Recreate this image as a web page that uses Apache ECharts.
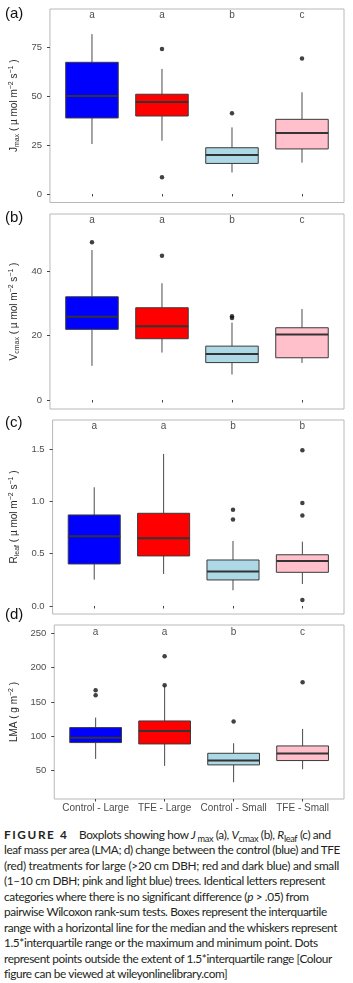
<!DOCTYPE html>
<html>
<head>
<meta charset="utf-8">
<script src="https://cdn.jsdelivr.net/npm/echarts@6/dist/echarts.min.js"></script>
<style>
  html, body { margin: 0; padding: 0; background: #fff; }
  body { width: 353px; height: 983px; position: relative; overflow: hidden; }
  #chart { position: absolute; left: 0; top: 0; width: 353px; height: 822px; }
  #cap { position: absolute; left: 4px; top: 827px; width: 349px; font-family: Lato, 'Open Sans', sans-serif;
         font-size: 11.8px; line-height: 15.45px; color: #231f20; }
  #cap .ln { white-space: nowrap; height: 15.45px; }
  #cap .ln span.inner { display: inline-block; white-space: nowrap; }
  #cap .fig { font-weight: bold; letter-spacing: 1.6px; }
  #cap sub { font-size: 0.78em; vertical-align: baseline; position: relative; top: 0.3em; line-height: 0; }
</style>
</head>
<body>
<div id="chart"></div>
<div id="cap">
<div class="ln" data-w="324"><span class="inner"><span class="fig">FIGURE 4</span>&nbsp;&nbsp;&nbsp;&nbsp;Boxplots showing how <i>J</i><sub>&nbsp;max</sub> (a), <i>V</i><sub>cmax</sub> (b), <i>R</i><sub>leaf</sub> (c) and</span></div>
<div class="ln" data-w="336"><span class="inner">leaf mass per area (LMA; d) change between the control (blue) and TFE</span></div>
<div class="ln" data-w="335"><span class="inner">(red) treatments for large (&gt;20 cm DBH; red and dark blue) and small</span></div>
<div class="ln" data-w="321"><span class="inner">(1–10 cm DBH; pink and light blue) trees. Identical letters represent</span></div>
<div class="ln" data-w="304"><span class="inner">categories where there is no significant difference (<i>p</i> &gt; .05) from</span></div>
<div class="ln" data-w="323"><span class="inner">pairwise Wilcoxon rank-sum tests. Boxes represent the interquartile</span></div>
<div class="ln" data-w="333"><span class="inner">range with a horizontal line for the median and the whiskers represent</span></div>
<div class="ln" data-w="314"><span class="inner">1.5*interquartile range or the maximum and minimum point. Dots</span></div>
<div class="ln" data-w="328"><span class="inner">represent points outside the extent of 1.5*interquartile range [Colour</span></div>
<div class="ln" data-w="223"><span class="inner">figure can be viewed at wileyonlinelibrary.com]</span></div>
</div>
<script>
// ---------- data ----------
const categories = ['Control - Large', 'TFE - Large', 'Control - Small', 'TFE - Small'];
const boxFills = ['#0000ff', '#ff0000', '#add8e6', '#ffc0cb'];

// each box: [lower whisker, Q1, median, Q3, upper whisker]
const jmaxBoxes = [[25.5, 38.8, 50.0, 67.2, 81.6], [27.2, 39.8, 46.9, 50.9, 63.8], [11.0, 15.6, 19.9, 23.6, 34.0], [16.0, 23.0, 31.1, 38.1, 51.9]];
const jmaxOutliers = [[2, 74.0], [2, 8.5], [3, 41.2], [4, 69.2]];
const jmaxLetters = ['a', 'a', 'b', 'c'];
const jmaxLetterLevel = 91.3;
const jmaxTicks = [0, 25, 50, 75];

const vcmaxBoxes = [[10.6, 21.9, 25.8, 32.0, 46.5], [14.7, 19.0, 22.9, 28.6, 36.2], [7.9, 11.6, 14.3, 16.7, 24.0], [11.5, 13.1, 20.3, 22.4, 28.2]];
const vcmaxOutliers = [[1, 48.9], [2, 44.7], [3, 26.0], [3, 25.4]];
const vcmaxLetters = ['a', 'a', 'b', 'c'];
const vcmaxLetterLevel = 55.6;
const vcmaxTicks = [0, 20, 40];

const rleafBoxes = [[0.252, 0.402, 0.667, 0.871, 1.136], [0.306, 0.479, 0.648, 0.887, 1.455], [0.150, 0.249, 0.329, 0.440, 0.622], [0.210, 0.322, 0.431, 0.490, 0.616]];
const rleafOutliers = [[3, 0.922], [3, 0.827], [4, 1.490], [4, 0.986], [4, 0.865], [4, 0.057]];
const rleafLetters = ['a', 'a', 'b', 'b'];
const rleafLetterLevel = 1.724;
const rleafTicks = [0, 0.5, 1.0, 1.5];

const lmaBoxes = [[67.0, 90.8, 98.0, 112.6, 127.2], [56.8, 88.8, 107.8, 122.3, 172.5], [33.0, 58.3, 64.6, 75.2, 89.8], [52.0, 64.6, 74.8, 85.9, 110.7]];
const lmaOutliers = [[1, 167.0], [1, 159.7], [2, 216.5], [2, 174.3], [3, 121.4], [4, 178.6]];
const lmaLetters = ['a', 'a', 'b', 'c'];
const lmaLetterLevel = 251.9;
const lmaTicks = [50, 100, 150, 200, 250];

// ---------- layout ----------
const panels = [
  { tag: '(a)', top: 9, height: 193.5, min: -4.34, max: 94.4, ticks: jmaxTicks, boxes: jmaxBoxes, outliers: jmaxOutliers, letters: jmaxLetters, level: jmaxLetterLevel,
    name: '{t|J}{s|max}{t| ( µ mol m}{p|−2}{t| s}{p|−1}{t| )}', dec: 0, labTop: 6 },
  { tag: '(b)', top: 214, height: 195, min: -2.79, max: 57.67, ticks: vcmaxTicks, boxes: vcmaxBoxes, outliers: vcmaxOutliers, letters: vcmaxLetters, level: vcmaxLetterLevel,
    name: '{t|V}{s|cmax}{t| ( µ mol m}{p|−2}{t| s}{p|−1}{t| )}', dec: 0, labTop: 210 },
  { tag: '(c)', top: 420, height: 194, min: -0.077, max: 1.78, ticks: rleafTicks, boxes: rleafBoxes, outliers: rleafOutliers, letters: rleafLetters, level: rleafLetterLevel,
    name: '{t|R}{s|leaf}{t| ( µ mol m}{p|−2}{t| s}{p|−1}{t| )}', dec: 1, labTop: 415 },
  { tag: '(d)', top: 625, height: 174, min: 8.6, max: 262.1, ticks: lmaTicks, boxes: lmaBoxes, outliers: lmaOutliers, letters: lmaLetters, level: lmaLetterLevel,
    name: '{t|LMA ( g m}{p|−2}{t| )}', dec: 0, labTop: 607 }
];

const FONT = 'Liberation Sans';
const nameRich = {
  t: { fontSize: 10, color: '#2b2b2b', fontFamily: FONT },
  s: { fontSize: 7, color: '#2b2b2b', fontFamily: FONT, padding: [5, 0, 0, 0] },
  p: { fontSize: 7, color: '#2b2b2b', fontFamily: FONT, padding: [0, 0, 6, 0] }
};

function renderBox(params, api) {
  const x = api.value(0);
  const lo = api.coord([x, api.value(1)]);
  const q1 = api.coord([x, api.value(2)]);
  const md = api.coord([x, api.value(3)]);
  const q3 = api.coord([x, api.value(4)]);
  const hi = api.coord([x, api.value(5)]);
  const w = api.size([0.75, 0])[0];
  const fill = boxFills[params.dataIndex];
  return {
    type: 'group',
    children: [
      { type: 'line', shape: { x1: lo[0], y1: lo[1], x2: q1[0], y2: q1[1] }, style: { stroke: '#4a4a4a', lineWidth: 1 } },
      { type: 'line', shape: { x1: q3[0], y1: q3[1], x2: hi[0], y2: hi[1] }, style: { stroke: '#4a4a4a', lineWidth: 1 } },
      { type: 'rect', shape: { x: q3[0] - w / 2, y: q3[1], width: w, height: q1[1] - q3[1] }, style: { fill: fill, stroke: '#3a3a3a', lineWidth: 1 } },
      { type: 'line', shape: { x1: md[0] - w / 2, y1: md[1], x2: md[0] + w / 2, y2: md[1] }, style: { stroke: '#333333', lineWidth: 2 } }
    ]
  };
}

const grid = [], xAxis = [], yAxis = [], series = [], graphic = [];
panels.forEach((p, i) => {
  grid.push({ left: 40, right: 9, top: p.top, height: p.height, show: true, borderColor: '#b8b8b8', borderWidth: 1, backgroundColor: '#ffffff' });
  xAxis.push({
    gridIndex: i, type: 'value', min: 0.4, max: 4.6,
    splitLine: { show: false }, axisLine: { show: false },
    axisTick: { show: true, length: 2.5, customValues: [1, 2, 3, 4], lineStyle: { color: '#444' } },
    axisLabel: { show: i === 3, customValues: [1, 2, 3, 4], formatter: v => categories[Math.round(v) - 1],
                 fontSize: 10, color: '#4d4d4d', margin: 4, fontFamily: FONT }
  });
  yAxis.push({
    gridIndex: i, type: 'value', min: p.min, max: p.max,
    splitLine: { show: false }, axisLine: { show: false },
    axisTick: { show: true, length: 3, customValues: p.ticks, lineStyle: { color: '#444' } },
    axisLabel: { customValues: p.ticks, formatter: v => v.toFixed(p.dec), fontSize: 9.5, color: '#4d4d4d', margin: 8, fontFamily: FONT },
    name: p.name, nameLocation: 'middle', nameGap: 19, nameRotate: 90,
    nameTextStyle: { rich: nameRich }
  });
  series.push({
    type: 'custom', xAxisIndex: i, yAxisIndex: i, renderItem: renderBox,
    data: p.boxes.map((b, j) => [j + 1].concat(b)),
    encode: { x: 0, y: [1, 2, 3, 4, 5] }, z: 2
  });
  series.push({
    type: 'scatter', xAxisIndex: i, yAxisIndex: i, data: p.outliers,
    symbolSize: 4.5, itemStyle: { color: '#111' }, z: 3
  });
  series.push({
    type: 'scatter', xAxisIndex: i, yAxisIndex: i,
    data: p.letters.map((l, j) => [j + 1, p.level, l]),
    symbolSize: 0, z: 4,
    label: { show: true, position: 'inside', formatter: q => q.value[2], fontSize: 10, color: '#222', fontFamily: FONT }
  });
  graphic.push({ type: 'text', left: 5, top: p.labTop, style: { text: p.tag, fontSize: 15, fill: '#111', fontFamily: FONT } });
});

const chart = echarts.init(document.getElementById('chart'), null, { renderer: 'canvas' });
chart.setOption({ animation: false, backgroundColor: '#fff', grid, xAxis, yAxis, series, graphic });

// fit each caption line to the measured line width of the figure caption
document.querySelectorAll('#cap .ln').forEach(ln => {
  const inner = ln.querySelector('.inner');
  const target = parseFloat(ln.dataset.w);
  const w = inner.getBoundingClientRect().width;
  const n = inner.textContent.length;
  if (n > 1) inner.style.letterSpacing = ((target - w) / n).toFixed(3) + 'px';
});
</script>
</body>
</html>
